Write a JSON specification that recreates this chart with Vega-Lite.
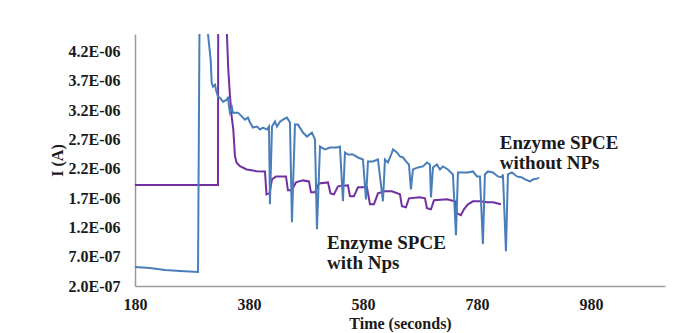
{
  "$schema": "https://vega.github.io/schema/vega-lite/v6.json",
  "width": 530,
  "height": 252,
  "autosize": {"type": "none"},
  "padding": {"left": 135, "top": 34, "right": 12, "bottom": 47},
  "background": "white",
  "config": {
    "view": {"stroke": null},
    "axis": {
      "grid": false,
      "ticks": false,
      "tickSize": 0,
      "domainColor": "#9a9a9a",
      "domainWidth": 1.5,
      "labelFont": "Liberation Serif",
      "labelFontWeight": "bold",
      "labelFontSize": 16,
      "labelColor": "#1a1a1a",
      "titleFont": "Liberation Serif",
      "titleFontWeight": "bold",
      "titleFontSize": 16,
      "titleColor": "#1a1a1a"
    }
  },
  "datasets": {
    "blue": [
      {"t": 180, "v": 0.523e-6}, {"t": 206.3, "v": 0.506e-6}, {"t": 232.6, "v": 0.472e-6}, {"t": 258.9, "v": 0.455e-6},
      {"t": 290.6, "v": 0.438e-6}, {"t": 294, "v": 6.0e-6}, {"t": 306, "v": 6.0e-6}, {"t": 308.1, "v": 4.5e-6},
      {"t": 312.8, "v": 4.059e-6}, {"t": 314.6, "v": 3.668e-6}, {"t": 316.8, "v": 3.6e-6}, {"t": 320.4, "v": 3.634e-6},
      {"t": 322.1, "v": 3.549e-6}, {"t": 325.6, "v": 3.43e-6}, {"t": 329.1, "v": 3.413e-6}, {"t": 334.4, "v": 3.345e-6},
      {"t": 341.4, "v": 3.379e-6}, {"t": 343.2, "v": 3.43e-6}, {"t": 344.9, "v": 3.26e-6}, {"t": 346.7, "v": 3.158e-6},
      {"t": 350.2, "v": 3.243e-6}, {"t": 351.9, "v": 3.158e-6}, {"t": 360.7, "v": 3.158e-6}, {"t": 367.7, "v": 3.09e-6},
      {"t": 373, "v": 3.039e-6}, {"t": 378.2, "v": 3.073e-6}, {"t": 381.8, "v": 2.988e-6}, {"t": 387, "v": 2.903e-6},
      {"t": 394, "v": 2.92e-6}, {"t": 399.3, "v": 2.869e-6}, {"t": 404.6, "v": 2.903e-6}, {"t": 411.6, "v": 2.869e-6},
      {"t": 415.1, "v": 2.92e-6}, {"t": 416.8, "v": 1.594e-6}, {"t": 420.4, "v": 2.92e-6}, {"t": 425.6, "v": 3.005e-6},
      {"t": 429.1, "v": 2.92e-6}, {"t": 434.4, "v": 3.005e-6}, {"t": 439.6, "v": 3.039e-6}, {"t": 446.7, "v": 3.073e-6},
      {"t": 451.9, "v": 2.988e-6}, {"t": 455.4, "v": 1.288e-6}, {"t": 460.7, "v": 2.954e-6}, {"t": 466, "v": 2.954e-6},
      {"t": 474.7, "v": 2.818e-6}, {"t": 481.8, "v": 2.75e-6}, {"t": 490.5, "v": 2.818e-6}, {"t": 495.8, "v": 2.699e-6},
      {"t": 499.3, "v": 1.169e-6}, {"t": 504.6, "v": 2.58e-6}, {"t": 513.3, "v": 2.529e-6}, {"t": 522.1, "v": 2.563e-6},
      {"t": 534.4, "v": 2.563e-6}, {"t": 539.6, "v": 2.58e-6}, {"t": 544.9, "v": 1.645e-6}, {"t": 548.4, "v": 2.478e-6},
      {"t": 553.7, "v": 2.444e-6}, {"t": 562.5, "v": 2.444e-6}, {"t": 571.2, "v": 2.393e-6}, {"t": 580, "v": 2.359e-6},
      {"t": 585.3, "v": 1.679e-6}, {"t": 588.8, "v": 2.325e-6}, {"t": 597.5, "v": 2.325e-6}, {"t": 606.3, "v": 2.359e-6},
      {"t": 615.1, "v": 1.645e-6}, {"t": 618.6, "v": 2.359e-6}, {"t": 623.9, "v": 2.308e-6}, {"t": 630.9, "v": 2.478e-6},
      {"t": 632.6, "v": 2.529e-6}, {"t": 639.6, "v": 2.478e-6}, {"t": 644.9, "v": 2.41e-6}, {"t": 650.2, "v": 2.393e-6},
      {"t": 657.2, "v": 2.308e-6}, {"t": 660.7, "v": 2.274e-6}, {"t": 664.2, "v": 1.849e-6}, {"t": 667.7, "v": 2.189e-6},
      {"t": 676.5, "v": 2.223e-6}, {"t": 685.3, "v": 2.24e-6}, {"t": 692.3, "v": 2.308e-6}, {"t": 697.5, "v": 2.274e-6},
      {"t": 699.3, "v": 1.713e-6}, {"t": 702.8, "v": 2.223e-6}, {"t": 709.8, "v": 2.274e-6}, {"t": 715.1, "v": 2.189e-6},
      {"t": 720.4, "v": 2.24e-6}, {"t": 729.1, "v": 2.189e-6}, {"t": 737.9, "v": 2.104e-6}, {"t": 743.2, "v": 1.067e-6},
      {"t": 746.7, "v": 2.138e-6}, {"t": 755.4, "v": 2.138e-6}, {"t": 764.2, "v": 2.138e-6}, {"t": 773, "v": 2.155e-6},
      {"t": 780, "v": 2.07e-6}, {"t": 785.3, "v": 2.07e-6}, {"t": 790.5, "v": 0.914e-6}, {"t": 794, "v": 2.104e-6},
      {"t": 799.3, "v": 2.155e-6}, {"t": 808.1, "v": 2.138e-6}, {"t": 816.8, "v": 2.07e-6}, {"t": 823.9, "v": 2.053e-6},
      {"t": 825.6, "v": 2.104e-6}, {"t": 830.9, "v": 0.795e-6}, {"t": 834.4, "v": 2.104e-6}, {"t": 841.4, "v": 2.138e-6},
      {"t": 850.2, "v": 2.07e-6}, {"t": 859, "v": 2.053e-6}, {"t": 864.2, "v": 2.019e-6}, {"t": 873, "v": 1.985e-6},
      {"t": 878.2, "v": 2.019e-6}, {"t": 887, "v": 2.036e-6}, {"t": 888.8, "v": 2.053e-6}
    ],
    "purple": [
      {"t": 180, "v": 1.922e-6}, {"t": 325.6, "v": 1.922e-6}, {"t": 326.2, "v": 6.0e-6}, {"t": 339.5, "v": 6.0e-6},
      {"t": 340.9, "v": 4.6e-6}, {"t": 343.7, "v": 3.889e-6}, {"t": 346.7, "v": 3.435e-6}, {"t": 349.6, "v": 3.095e-6},
      {"t": 352.5, "v": 2.869e-6}, {"t": 355.4, "v": 2.415e-6}, {"t": 358.4, "v": 2.302e-6}, {"t": 364.2, "v": 2.245e-6},
      {"t": 376, "v": 2.189e-6}, {"t": 393.5, "v": 2.16e-6}, {"t": 408.1, "v": 2.155e-6}, {"t": 410.7, "v": 1.764e-6},
      {"t": 416, "v": 1.781e-6}, {"t": 420.4, "v": 2.019e-6}, {"t": 427.4, "v": 2.07e-6}, {"t": 444.9, "v": 2.07e-6},
      {"t": 448.4, "v": 1.832e-6}, {"t": 455.4, "v": 1.832e-6}, {"t": 462.5, "v": 1.968e-6}, {"t": 474.7, "v": 2.002e-6},
      {"t": 485.3, "v": 1.985e-6}, {"t": 488.8, "v": 1.798e-6}, {"t": 495.8, "v": 1.798e-6}, {"t": 502.8, "v": 1.951e-6},
      {"t": 518.6, "v": 1.968e-6}, {"t": 523, "v": 1.781e-6}, {"t": 529.1, "v": 1.764e-6}, {"t": 536.1, "v": 1.9e-6},
      {"t": 553.7, "v": 1.917e-6}, {"t": 557.2, "v": 1.73e-6}, {"t": 564.2, "v": 1.73e-6}, {"t": 571.2, "v": 1.883e-6},
      {"t": 587, "v": 1.883e-6}, {"t": 592.3, "v": 1.594e-6}, {"t": 599.3, "v": 1.594e-6}, {"t": 606.3, "v": 1.781e-6},
      {"t": 618.6, "v": 1.815e-6}, {"t": 630.9, "v": 1.815e-6}, {"t": 644.9, "v": 1.764e-6}, {"t": 648.4, "v": 1.56e-6},
      {"t": 655.4, "v": 1.543e-6}, {"t": 660.7, "v": 1.696e-6}, {"t": 680, "v": 1.713e-6}, {"t": 688.8, "v": 1.696e-6},
      {"t": 692.3, "v": 1.526e-6}, {"t": 699.3, "v": 1.509e-6}, {"t": 704.6, "v": 1.662e-6}, {"t": 727.4, "v": 1.679e-6},
      {"t": 741.4, "v": 1.645e-6}, {"t": 744.9, "v": 1.441e-6}, {"t": 751.9, "v": 1.407e-6}, {"t": 757.2, "v": 1.509e-6},
      {"t": 764.2, "v": 1.594e-6}, {"t": 773, "v": 1.645e-6}, {"t": 785.3, "v": 1.645e-6}, {"t": 797.5, "v": 1.628e-6},
      {"t": 808.1, "v": 1.628e-6}, {"t": 822.1, "v": 1.594e-6}
    ],
    "labels": [
      {"t": 820, "v": 2.644e-6, "text": "Enzyme SPCE"},
      {"t": 820, "v": 2.302e-6, "text": "without NPs"},
      {"t": 517, "v": 0.935e-6, "text": "Enzyme SPCE"},
      {"t": 517, "v": 0.593e-6, "text": "with Nps"}
    ]
  },
  "encoding": {
    "x": {
      "field": "t",
      "type": "quantitative",
      "scale": {"domain": [180, 1110], "nice": false, "zero": false},
      "axis": {
        "title": "Time (seconds)",
        "values": [180, 380, 580, 780, 980],
        "labelPadding": 10,
        "titlePadding": 3,
        "labelFlush": false
      }
    },
    "y": {
      "field": "v",
      "type": "quantitative",
      "scale": {"domain": [2e-7, 4.5e-6], "nice": false, "zero": false},
      "axis": {
        "title": "I (A)",
        "values": [2e-7, 7e-7, 1.2e-6, 1.7e-6, 2.2e-6, 2.7e-6, 3.2e-6, 3.7e-6, 4.2e-6],
        "labelExpr": "replace(format(datum.value, '.1e'), 'e-', 'E-0')",
        "labelPadding": 15,
        "titlePadding": 3,
        "labelFlush": false
      }
    }
  },
  "layer": [
    {
      "data": {"name": "purple"},
      "mark": {"type": "line", "color": "#7030a0", "strokeWidth": 2, "clip": true}
    },
    {
      "data": {"name": "blue"},
      "mark": {"type": "line", "color": "#4a7ebb", "strokeWidth": 2, "clip": true}
    },
    {
      "data": {"name": "labels"},
      "mark": {
        "type": "text",
        "align": "left",
        "baseline": "middle",
        "font": "Liberation Serif",
        "fontWeight": "bold",
        "fontSize": 19,
        "color": "#1a1a1a"
      },
      "encoding": {"text": {"field": "text", "type": "nominal"}}
    }
  ]
}
